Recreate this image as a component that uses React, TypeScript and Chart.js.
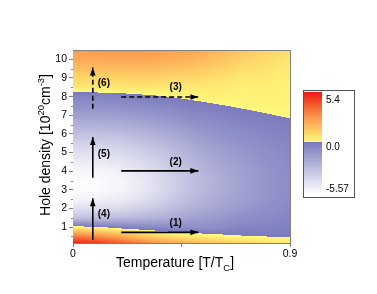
import React, { useEffect, useRef } from 'react';
import { Chart, registerables } from 'chart.js';

Chart.register(...registerables);

// ---------- data ----------
const temperatures = [0, 0.1, 0.2, 0.3, 0.4, 0.5, 0.6, 0.7, 0.8, 0.9];
const densities = [0, 0.5, 1, 1.5, 2, 2.5, 3, 3.5, 4, 4.5, 5, 5.5, 6, 6.5, 7, 7.5, 8, 8.5, 9, 9.5, 10, 10.5];
// one array per temperature column, values at each density above
const heatByTemperature: number[][] = [
  [6.0, 3.4, 0.3, -3.0, -4.3, -5.1, -5.5, -5.57, -5.25, -4.8, -4.3, -3.7, -3.0, -2.3, -1.6, -0.95, -0.4, 0.5, 1.0, 1.6, 2.2, 2.6],
  [5.5, 3.0, 0.12, -2.9, -4.2, -5.0, -5.4, -5.45, -5.15, -4.7, -4.2, -3.6, -2.95, -2.25, -1.55, -0.92, -0.4, 0.5, 1.05, 1.65, 2.25, 2.7],
  [4.8, 2.2, -0.36, -2.75, -4.0, -4.75, -5.1, -5.15, -4.9, -4.45, -4.0, -3.45, -2.8, -2.15, -1.5, -0.88, -0.3, 0.53, 1.1, 1.7, 2.3, 2.75],
  [3.8, 1.4, -0.6, -2.5, -3.5, -4.2, -4.5, -4.55, -4.3, -3.95, -3.5, -3.0, -2.45, -1.85, -1.25, -0.7, -0.15, 0.6, 1.15, 1.75, 2.3, 2.7],
  [3.0, 0.8, -0.74, -2.1, -2.9, -3.4, -3.7, -3.72, -3.55, -3.25, -2.9, -2.45, -2.0, -1.5, -1.0, -0.5, 0.02, 0.45, 1.0, 1.55, 2.1, 2.5],
  [2.4, 0.5, -0.89, -1.65, -2.25, -2.65, -2.85, -2.9, -2.75, -2.5, -2.2, -1.85, -1.45, -1.05, -0.65, -0.25, 0.17, 0.5, 0.95, 1.45, 1.9, 2.3],
  [1.9, 0.25, -0.85, -1.3, -1.75, -2.05, -2.2, -2.22, -2.1, -1.9, -1.65, -1.35, -1.05, -0.75, -0.45, -0.06, 0.3, 0.45, 0.75, 1.15, 1.55, 1.9],
  [1.4, 0.05, -0.45, -0.9, -1.3, -1.55, -1.65, -1.67, -1.6, -1.45, -1.25, -1.0, -0.75, -0.5, -0.22, 0.09, 0.2, 0.3, 0.5, 0.85, 1.15, 1.45],
  [1.0, 0.0, -0.4, -0.65, -0.9, -1.1, -1.17, -1.17, -1.12, -1.0, -0.87, -0.7, -0.52, -0.34, -0.05, 0.2, 0.3, 0.35, 0.45, 0.65, 0.85, 1.05],
  [0.6, -0.05, -0.3, -0.45, -0.6, -0.72, -0.78, -0.78, -0.74, -0.66, -0.57, -0.46, -0.34, -0.2, 0.09, 0.15, 0.2, 0.25, 0.3, 0.4, 0.55, 0.7],
];
const colorMax = 5.4;
const colorMin = -5.57;
const colorbarLabels = ['5.4', '0.0', '-5.57'];

const xTickValues = [0, 0.45, 0.9];
const xTickLabels = ['0', '', '0.9'];
const yTickValues = [1, 2, 3, 4, 5, 6, 7, 8, 9, 10];
const yMinorTickValues = [0.5, 1.5, 2.5, 3.5, 4.5, 5.5, 6.5, 7.5, 8.5, 9.5];

const arrowNames = ['(1)', '(2)', '(3)', '(4)', '(5)', '(6)'];
const arrowFromT = [0.2, 0.2, 0.2, 0.082, 0.082, 0.082];
const arrowToT = [0.52, 0.52, 0.52, 0.082, 0.082, 0.082];
const arrowFromN = [0.72, 4.02, 7.98, 0.31, 3.65, 7.35];
const arrowToN = [0.72, 4.02, 7.98, 2.55, 5.83, 9.56];
const arrowDashed = [false, false, true, false, false, true];
const labelT = [0.426, 0.426, 0.426, 0.128, 0.128, 0.128];
const labelN = [1.2, 4.48, 8.48, 1.71, 4.9, 8.7];

// ---------- styles ----------
const FONT = '"Liberation Sans", Arial, sans-serif';
const AXIS_GREY = '#808080';
const posStops: [number, number[]][] = [
  [0, [255, 250, 125]],
  [1.0, [254, 214, 105]],
  [2.7, [251, 152, 76]],
  [4.2, [245, 82, 42]],
  [5.4, [238, 22, 22]],
];
const negBase = [122, 122, 190];

function colorFor(v: number): number[] {
  if (v >= 0) {
    if (v >= posStops[posStops.length - 1][0]) return posStops[posStops.length - 1][1];
    for (let i = 0; i < posStops.length - 1; i++) {
      const [a, ca] = posStops[i];
      const [b, cb] = posStops[i + 1];
      if (v <= b) {
        const t = (v - a) / (b - a);
        return [0, 1, 2].map((k) => ca[k] + (cb[k] - ca[k]) * t);
      }
    }
    return posStops[posStops.length - 1][1];
  }
  const t = Math.min(1, v / colorMin);
  return [0, 1, 2].map((k) => negBase[k] + (255 - negBase[k]) * t);
}

function locate(arr: number[], v: number): [number, number] {
  if (v <= arr[0]) return [0, 0];
  const last = arr.length - 1;
  if (v >= arr[last]) return [last - 1, 1];
  let i = 0;
  while (arr[i + 1] < v) i++;
  return [i, (v - arr[i]) / (arr[i + 1] - arr[i])];
}

function fieldAt(T: number, n: number): number {
  const [i, fx] = locate(temperatures, T);
  const [j, fy] = locate(densities, n);
  const a = heatByTemperature[i][j];
  const b = heatByTemperature[i + 1][j];
  const c = heatByTemperature[i][j + 1];
  const d = heatByTemperature[i + 1][j + 1];
  return (a * (1 - fx) + b * fx) * (1 - fy) + (c * (1 - fx) + d * fx) * fy;
}

const heatmapPlugin = {
  id: 'heatmap',
  beforeDatasetsDraw(chart: any) {
    const { ctx, chartArea: a, scales } = chart;
    const xs = scales.x;
    const ys = scales.y;
    const w = Math.round(a.right - a.left);
    const h = Math.round(a.bottom - a.top);
    const off = document.createElement('canvas');
    off.width = w;
    off.height = h;
    const octx = off.getContext('2d')!;
    const img = octx.createImageData(w, h);
    for (let py = 0; py < h; py++) {
      const n = ys.getValueForPixel(a.top + py + 0.5);
      for (let px = 0; px < w; px++) {
        const T = xs.getValueForPixel(a.left + px + 0.5);
        const c = colorFor(fieldAt(T, n));
        const o = (py * w + px) * 4;
        img.data[o] = c[0];
        img.data[o + 1] = c[1];
        img.data[o + 2] = c[2];
        img.data[o + 3] = 255;
      }
    }
    octx.putImageData(img, 0, 0);
    ctx.save();
    ctx.drawImage(off, a.left, a.top);
    ctx.restore();
  },
};

const arrowPlugin = {
  id: 'arrowsAndLabels',
  afterDatasetsDraw(chart: any) {
    const { ctx, scales } = chart;
    ctx.save();
    chart.data.datasets.forEach((_: any, i: number) => {
      const meta = chart.getDatasetMeta(i);
      const p0 = meta.data[0];
      const p1 = meta.data[1];
      const ang = Math.atan2(p1.y - p0.y, p1.x - p0.x);
      const len = 8;
      const hw = 2.8;
      ctx.fillStyle = '#000';
      ctx.beginPath();
      ctx.moveTo(p1.x, p1.y);
      ctx.lineTo(p1.x - len * Math.cos(ang) - hw * Math.sin(ang), p1.y - len * Math.sin(ang) + hw * Math.cos(ang));
      ctx.lineTo(p1.x - len * Math.cos(ang) + hw * Math.sin(ang), p1.y - len * Math.sin(ang) - hw * Math.cos(ang));
      ctx.closePath();
      ctx.fill();
    });
    ctx.font = `bold 10px ${FONT}`;
    ctx.textAlign = 'center';
    ctx.textBaseline = 'middle';
    ctx.fillStyle = '#000';
    arrowNames.forEach((name, i) => {
      ctx.fillText(name, scales.x.getPixelForValue(labelT[i]), scales.y.getPixelForValue(labelN[i]));
    });
    ctx.restore();
  },
};

function drawRich(ctx: CanvasRenderingContext2D, parts: { t: string; k: 'n' | 'sup' | 'sub' }[], cx: number, baseY: number) {
  const fontFor = (k: string) => (k === 'n' ? `14px ${FONT}` : `9.5px ${FONT}`);
  let total = 0;
  const widths = parts.map((p) => {
    ctx.font = fontFor(p.k);
    const w = ctx.measureText(p.t).width;
    total += w;
    return w;
  });
  let x = cx - total / 2;
  ctx.textAlign = 'left';
  ctx.textBaseline = 'alphabetic';
  parts.forEach((p, i) => {
    ctx.font = fontFor(p.k);
    const dy = p.k === 'sup' ? -6 : p.k === 'sub' ? 4 : 0;
    ctx.fillText(p.t, x, baseY + dy);
    x += widths[i];
  });
}

const decorPlugin = {
  id: 'decor',
  afterDraw(chart: any) {
    const { ctx, chartArea: a, scales } = chart;
    ctx.save();
    // frame top/right
    ctx.strokeStyle = AXIS_GREY;
    ctx.lineWidth = 1;
    ctx.beginPath();
    ctx.moveTo(a.left, a.top + 0.5);
    ctx.lineTo(a.right + 0.5, a.top + 0.5);
    ctx.lineTo(a.right + 0.5, a.bottom);
    ctx.stroke();
    // minor y ticks
    ctx.beginPath();
    yMinorTickValues.forEach((v) => {
      const py = Math.round(scales.y.getPixelForValue(v)) + 0.5;
      ctx.moveTo(a.left - 2, py);
      ctx.lineTo(a.left, py);
    });
    ctx.stroke();

    // axis titles
    ctx.fillStyle = '#000';
    drawRich(ctx, [
      { t: 'Temperature [T/T', k: 'n' },
      { t: 'C', k: 'sub' },
      { t: ']', k: 'n' },
    ], 175, 267);
    ctx.save();
    ctx.translate(50, 145);
    ctx.rotate(-Math.PI / 2);
    drawRich(ctx, [
      { t: 'Hole density [10', k: 'n' },
      { t: '20', k: 'sup' },
      { t: 'cm', k: 'n' },
      { t: '-3', k: 'sup' },
      { t: ']', k: 'n' },
    ], 0, 0);
    ctx.restore();

    // colour bar
    const bx = 303.5, by = 90.5, bw = 51, bh = 107;
    const sx = 304, sTop = 92, sBot = 194, sw = 18;
    for (let yy = sTop; yy < sBot; yy++) {
      const v = colorMax - ((yy + 0.5 - sTop) / (sBot - sTop)) * (colorMax - colorMin);
      const c = colorFor(v);
      ctx.fillStyle = `rgb(${c[0]},${c[1]},${c[2]})`;
      ctx.fillRect(sx, yy, sw, 1);
    }
    ctx.strokeStyle = '#555';
    ctx.lineWidth = 1;
    ctx.strokeRect(bx, by, bw, bh);
    ctx.fillStyle = '#000';
    ctx.font = `10px ${FONT}`;
    ctx.textAlign = 'left';
    ctx.textBaseline = 'middle';
    const labelYs = [100, 147, 189];
    colorbarLabels.forEach((t, i) => ctx.fillText(t, 326, labelYs[i]));
    ctx.restore();
  },
};

export default function App() {
  const ref = useRef<HTMLCanvasElement>(null);
  useEffect(() => {
    if (!ref.current) return;
    const datasets = arrowNames.map((name, i) => ({
      label: name,
      data: [
        { x: arrowFromT[i], y: arrowFromN[i] },
        { x: arrowToT[i], y: arrowToN[i] },
      ],
      showLine: true,
      borderColor: '#000',
      borderWidth: 1.6,
      borderDash: arrowDashed[i] ? [5, 3] : [],
      pointRadius: 0,
      pointHoverRadius: 0,
      fill: false,
    }));
    const chart = new Chart(ref.current, {
      type: 'scatter',
      data: { datasets },
      options: {
        animation: false,
        responsive: false,
        devicePixelRatio: 1,
        events: [],
        layout: { padding: { top: 50, right: 87, left: 0, bottom: 0 } },
        plugins: { legend: { display: false }, tooltip: { enabled: false } },
        scales: {
          x: {
            type: 'linear',
            min: 0,
            max: 0.9,
            afterFit(s: any) { s.height = 51; },
            afterBuildTicks(s: any) { s.ticks = xTickValues.map((v) => ({ value: v })); },
            ticks: {
              autoSkip: false,
              maxRotation: 0,
              padding: 1,
              color: '#000',
              font: { family: FONT, size: 10.5 },
              callback: (v: any) => xTickLabels[xTickValues.indexOf(Number(v))] ?? '',
            },
            grid: { display: true, drawOnChartArea: false, tickLength: 4, color: AXIS_GREY },
            border: { display: true, color: AXIS_GREY },
          },
          y: {
            type: 'linear',
            min: 0.15,
            max: 10.5,
            afterFit(s: any) { s.width = 73; },
            afterBuildTicks(s: any) { s.ticks = yTickValues.map((v) => ({ value: v })); },
            ticks: {
              autoSkip: false,
              padding: 2,
              color: '#000',
              font: { family: FONT, size: 10.5 },
              callback: (v: any) => String(v),
            },
            grid: { display: true, drawOnChartArea: false, tickLength: 4, color: AXIS_GREY },
            border: { display: true, color: AXIS_GREY },
          },
        },
      } as any,
      plugins: [heatmapPlugin, arrowPlugin, decorPlugin],
    });
    return () => chart.destroy();
  }, []);
  return (
    <div style={{ position: 'fixed', left: 0, top: 0, width: 377, height: 294, background: '#fff' }}>
      <canvas ref={ref} width={377} height={294} style={{ width: 377, height: 294, display: 'block' }} />
    </div>
  );
}
